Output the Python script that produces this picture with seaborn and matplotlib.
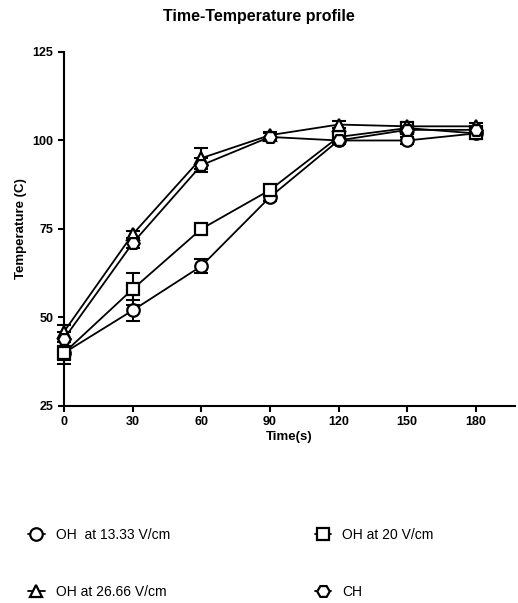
import pandas as pd
import matplotlib.pyplot as plt
import seaborn as sns

times = [0, 30, 60, 90, 120, 150, 180]
series = ["OH  at 13.33 V/cm", "OH at 20 V/cm", "OH at 26.66 V/cm", "CH"]
oh_13 = [40, 52, 64.5, 84, 100, 100, 102]
oh_13_err = [2, 3, 2, 1, 1, 1, 1]
oh_20 = [40, 58, 75, 86, 101, 103.5, 102]
oh_20_err = [3, 4.5, 1, 1, 1, 1.5, 1]
oh_26 = [46, 73.5, 95, 101.5, 104.5, 104, 104]
oh_26_err = [2, 1, 3, 1, 1, 1, 1]
ch = [44, 71, 93, 101, 100, 103, 103]
ch_err = [2, 1.5, 2, 1, 1, 1, 1]

values = [oh_13, oh_20, oh_26, ch]
errors = [oh_13_err, oh_20_err, oh_26_err, ch_err]
markers = {series[0]: "o", series[1]: "s", series[2]: "^", series[3]: "H"}

rows = []
for name, vals, errs in zip(series, values, errors):
    for t, v, e in zip(times, vals, errs):
        rows.append({"Time": t, "Temperature": v, "err": e, "Series": name})
df = pd.DataFrame(rows)

sns.set_style("ticks")
plt.rcParams["font.family"] = ["Liberation Sans", "DejaVu Sans"]
plt.rcParams["text.color"] = "black"
plt.rcParams["axes.labelcolor"] = "black"
plt.rcParams["xtick.color"] = "black"
plt.rcParams["ytick.color"] = "black"
plt.rcParams["axes.edgecolor"] = "black"

fig = plt.figure(figsize=(5.18, 6.03), dpi=100)
ax = fig.add_axes([0.1236, 0.3267, 0.87, 0.5871])

for name in series:
    sub = df[df["Series"] == name]
    eb = ax.errorbar(sub["Time"], sub["Temperature"], yerr=sub["err"], fmt="none",
                     ecolor="black", elinewidth=1.5, capsize=5, capthick=1.5, zorder=2)
    for art in eb.get_children():
        art.set_clip_on(False)

sns.lineplot(data=df, x="Time", y="Temperature", hue="Series", style="Series",
             markers=markers, dashes=False, palette=["black"] * 4,
             markersize=9, markerfacecolor="white", markeredgecolor="black",
             markeredgewidth=1.6, linewidth=1.3, ax=ax, legend=False, zorder=3)
for line in ax.lines:
    line.set_clip_on(False)

ax.set_xlim(0, 197)
ax.set_ylim(25, 125)
ax.set_xticks(times)
ax.set_yticks([25, 50, 75, 100, 125])
ax.spines["top"].set_visible(False)
ax.spines["right"].set_visible(False)
for s in ["left", "bottom"]:
    ax.spines[s].set_linewidth(1.5)
ax.tick_params(width=1.5, length=4, labelsize=9)
for lab in ax.get_xticklabels() + ax.get_yticklabels():
    lab.set_fontweight("bold")
ax.set_xlabel("Time(s)", fontsize=9.5, fontweight="bold", labelpad=2)
ax.set_ylabel("Temperature (C)", fontsize=9.5, fontweight="bold")
fig.suptitle("Time-Temperature profile", fontsize=11.5, fontweight="bold", y=0.985)

handles = []
for name in series:
    h, = ax.plot([], [], color="black", marker=markers[name], markersize=9,
                 markerfacecolor="white", markeredgewidth=1.6, linewidth=1.3)
    handles.append(h)
order = [0, 2, 1, 3]
fig.legend([handles[i] for i in order], [series[i] for i in order],
           loc="upper left", bbox_to_anchor=(0.03, 0.145), ncol=2, frameon=False,
           fontsize=10, handlelength=1.2, labelspacing=3.1, columnspacing=10.4)

fig.savefig("out.png", dpi=100)
